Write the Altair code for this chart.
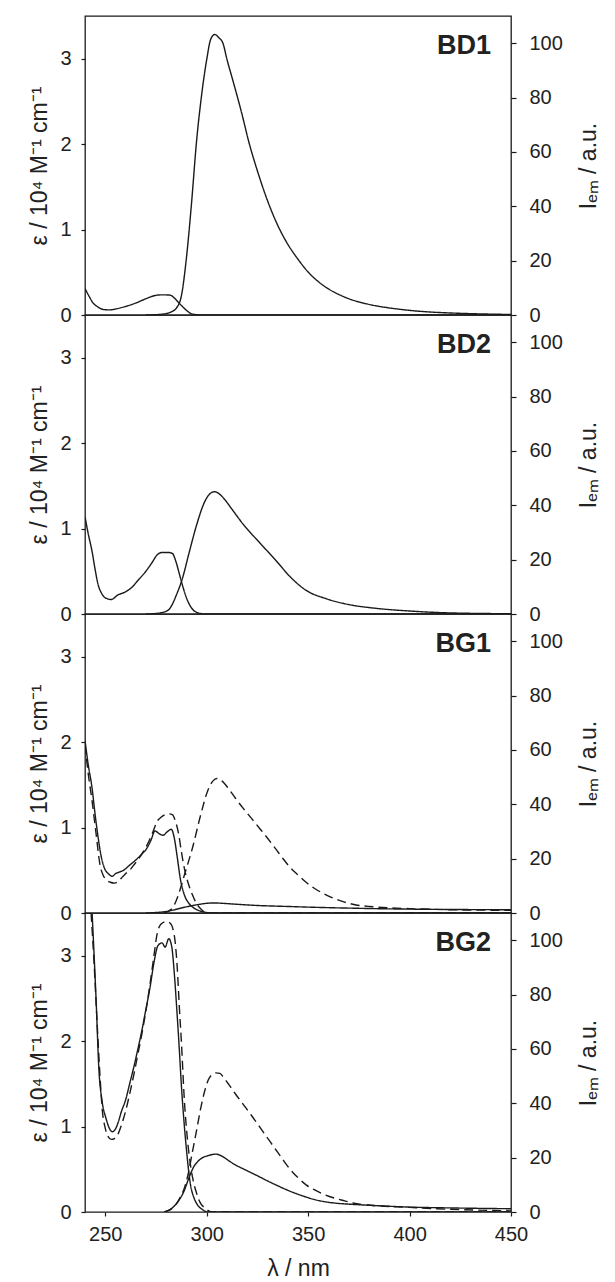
import altair as alt
import pandas as pd

# ---------------- data ----------------
# BD1
BD1_abs_lam = [240, 242, 244, 246, 249, 252, 256, 260, 265, 270, 274, 277, 280, 282, 284, 286, 288, 290, 292, 294, 297, 320, 450]
BD1_abs_val = [0.31, 0.22, 0.14, 0.10, 0.065, 0.06, 0.075, 0.10, 0.14, 0.19, 0.225, 0.235, 0.235, 0.232, 0.20, 0.15, 0.10, 0.055, 0.02, 0.006, 0.0, 0.0, 0.0]
BD1_em_lam = [270, 278, 282, 285, 287.5, 290, 292.5, 295, 297.5, 300, 302, 304, 306, 308, 310, 313, 317, 321, 325, 330, 335, 340, 345, 350, 355, 360, 365, 370, 380, 390, 400, 410, 420, 435, 450]
BD1_em_val = [0, 0.3, 1, 2.5, 7, 21, 41, 64, 81, 94, 101.5, 103.2, 102, 100, 94, 86, 75, 63, 53, 42, 33, 26, 20.5, 15.8, 12.3, 9.6, 7.6, 6.0, 3.9, 2.6, 1.7, 1.1, 0.75, 0.4, 0.2]

# BD2
BD2_abs_lam = [240, 241.5, 243.5, 245, 246.5, 248, 250, 253, 256, 260, 263, 266, 270, 273, 275.5, 278, 281, 283, 285, 286.5, 288, 290, 292, 295, 299, 450]
BD2_abs_val = [1.14, 0.95, 0.73, 0.52, 0.34, 0.25, 0.19, 0.17, 0.22, 0.26, 0.31, 0.39, 0.5, 0.6, 0.69, 0.72, 0.72, 0.71, 0.6, 0.47, 0.34, 0.19, 0.09, 0.02, 0.0, 0.0]
BD2_em_lam = [270, 277, 281, 283, 285, 288, 291, 295, 299, 302, 304, 306.5, 309, 312, 318, 326, 334, 341, 349, 359, 372, 382, 400, 420, 450]
BD2_em_val = [0, 0.4, 1.4, 3.5, 6.9, 13, 21.6, 32.7, 41.3, 44.5, 45, 44, 42, 39, 33, 26.3, 19.8, 13.8, 8.7, 5.6, 3.2, 2.2, 1.1, 0.4, 0.1]

# BG1
BG1_abs_lam = [240, 241.5, 243.5, 245, 246.5, 248, 249.5, 251.5, 253.5, 255, 257, 259, 262, 265, 268, 270, 272.5, 274.5, 276.5, 278.5, 280.5, 282.5, 284, 285.5, 287, 289, 291, 293, 296, 299, 302, 450]
BG1_abs_val = [2.02, 1.75, 1.46, 1.15, 0.88, 0.66, 0.53, 0.46, 0.43, 0.46, 0.48, 0.5, 0.56, 0.62, 0.69, 0.74, 0.85, 0.96, 0.93, 0.91, 0.95, 0.98, 0.88, 0.65, 0.4, 0.21, 0.12, 0.07, 0.03, 0.01, 0.0, 0.0]
BG1_absd_lam = [240, 241.5, 243.5, 245.5, 247.5, 249, 250.5, 252.5, 254.5, 256.5, 258, 260, 262, 264, 266, 268, 271.5, 273.5, 275.5, 277.5, 279.5, 281.5, 283.2, 284.5, 286.2, 287.5, 289, 291, 293, 295, 297, 300.5, 450]
BG1_absd_val = [1.97, 1.65, 1.31, 0.92, 0.55, 0.44, 0.39, 0.36, 0.35, 0.37, 0.41, 0.46, 0.5, 0.56, 0.62, 0.69, 0.84, 0.95, 1.07, 1.12, 1.15, 1.16, 1.15, 1.08, 0.92, 0.72, 0.52, 0.34, 0.21, 0.11, 0.05, 0.0, 0.0]
BG1_em_lam = [270, 281, 289, 295, 300.5, 304, 307, 315, 324, 340, 353, 370, 392, 420, 450]
BG1_em_val = [0, 0.7, 2.1, 3.0, 3.6, 3.7, 3.6, 3.2, 2.8, 2.4, 2.1, 1.8, 1.5, 1.3, 1.2]
BG1_emd_lam = [279, 283, 286, 289, 293, 297, 300.5, 303, 305, 307.5, 311, 314, 318, 322, 326, 330, 334, 337.5, 341, 345, 349, 353, 358, 363, 368, 372, 382, 400, 420, 450]
BG1_emd_val = [0, 1.7, 6.6, 14, 24, 36, 45, 48.5, 49.5, 48.6, 45.5, 42.4, 38.5, 34.9, 31.2, 27.5, 23.6, 20.1, 16.9, 14, 11.3, 9.1, 7, 5.3, 4, 3.2, 2.3, 1.6, 1.2, 1.0]

# BG2
BG2_abs_lam = [243.5, 244.5, 245.5, 246.8, 248.4, 250.3, 252, 253.5, 255.2, 256.5, 258, 260, 262, 264, 266, 268, 270, 272, 274, 276, 278, 279.5, 281.3, 282.8, 284, 285.2, 286.5, 287.5, 289, 290.1, 291, 292, 293.5, 295, 297.8, 300.7, 450]
BG2_abs_val = [3.5, 3.0, 2.47, 1.69, 1.3, 1.1, 0.98, 0.94, 0.98, 1.06, 1.18, 1.31, 1.5, 1.69, 1.9, 2.12, 2.37, 2.62, 2.92, 3.12, 3.15, 3.1, 3.2, 3.1, 2.8, 2.39, 1.9, 1.49, 1.0, 0.71, 0.5, 0.32, 0.18, 0.1, 0.03, 0.0, 0.0]
BG2_absd_lam = [243, 244.5, 246, 247.5, 248.5, 250, 251.5, 253, 254.5, 256, 258, 260, 262, 264, 266, 268, 270, 272, 274, 275.5, 277.5, 280, 282, 283.5, 284.5, 285.5, 286.5, 287.5, 289, 290.5, 292, 293.5, 295, 297, 299, 302.5, 450]
BG2_absd_val = [3.5, 2.9, 2.2, 1.55, 1.2, 0.98, 0.88, 0.85, 0.86, 0.9, 1.02, 1.18, 1.38, 1.6, 1.84, 2.08, 2.35, 2.66, 3.0, 3.25, 3.37, 3.4, 3.38, 3.3, 3.15, 2.85, 2.4, 2.0, 1.3, 0.85, 0.55, 0.35, 0.22, 0.1, 0.05, 0.0, 0.0]
BG2_em_lam = [279, 283, 285, 287, 289, 290.6, 292, 293.5, 295.5, 298, 301, 304.5, 306.5, 308.5, 311, 314, 319, 324, 329, 334, 339, 344, 349, 353, 358, 363, 372, 382, 400, 420, 450]
BG2_em_val = [0, 1.5, 3, 5.1, 8, 11.3, 14, 16.5, 18.5, 20, 20.8, 21.3, 20.9, 20.1, 18.8, 17.4, 15.5, 13.7, 11.8, 10, 8.3, 6.8, 5.5, 4.6, 3.8, 3.3, 2.8, 2.4, 1.8, 1.5, 1.2]
BG2_emd_lam = [279, 284, 287, 289, 291, 293, 295, 297, 299, 300.7, 302.5, 304.5, 306.5, 308.5, 311, 314, 318, 322, 326, 330, 334, 337.5, 341, 345, 349, 353, 358, 363, 368, 372, 382, 400, 420, 450]
BG2_emd_val = [0, 2, 5.5, 8.8, 14.5, 22.3, 30, 38, 44.5, 48.5, 50.5, 51.2, 51, 49.3, 46.8, 43.6, 39.6, 35.6, 31.4, 27.2, 23, 19.3, 15.8, 12.6, 10, 8.2, 6.4, 5.1, 4.1, 3.3, 2.4, 1.7, 1.0, 0.4]

panels = ["BD1", "BD2", "BG1", "BG2"]
eps_ticks = [0, 1, 2, 3]
iem_ticks = [0, 20, 40, 60, 80, 100]
x_ticks = [250, 300, 350, 400, 450]

series = [
    ("BD1", "abs", "solid", BD1_abs_lam, BD1_abs_val),
    ("BD1", "em", "solid", BD1_em_lam, BD1_em_val),
    ("BD2", "abs", "solid", BD2_abs_lam, BD2_abs_val),
    ("BD2", "em", "solid", BD2_em_lam, BD2_em_val),
    ("BG1", "abs", "solid", BG1_abs_lam, BG1_abs_val),
    ("BG1", "abs", "dashed", BG1_absd_lam, BG1_absd_val),
    ("BG1", "em", "solid", BG1_em_lam, BG1_em_val),
    ("BG1", "em", "dashed", BG1_emd_lam, BG1_emd_val),
    ("BG2", "abs", "solid", BG2_abs_lam, BG2_abs_val),
    ("BG2", "abs", "dashed", BG2_absd_lam, BG2_absd_val),
    ("BG2", "em", "solid", BG2_em_lam, BG2_em_val),
    ("BG2", "em", "dashed", BG2_emd_lam, BG2_emd_val),
]
rows = []
for p, kind, style, lams, vals in series:
    for l, v in zip(lams, vals):
        rows.append({"panel": p, "kind": kind, "style": style,
                     "series": f"{p}-{kind}-{style}", "lam": l, "val": v})
df = pd.DataFrame(rows)

INK = "#1a1a1a"
W, H = 426, 299
dash = alt.StrokeDash("style:N",
                      scale=alt.Scale(domain=["solid", "dashed"], range=[[1, 0], [9, 5]]),
                      legend=None)


def make_panel(name, last):
    d = df[df.panel == name]
    if last:
        xaxis = alt.Axis(values=x_ticks, title="λ / nm", tickSize=4, labelPadding=8,
                         labelFlush=False, titlePadding=13, domain=False)
    else:
        xaxis = None
    x = alt.X("lam:Q", scale=alt.Scale(domain=[240, 450], nice=False, zero=False), axis=xaxis)
    absl = alt.Chart(d[d.kind == "abs"]).mark_line(
        color=INK, strokeWidth=1.4, interpolate="monotone", clip=True
    ).encode(
        x=x,
        y=alt.Y("val:Q", scale=alt.Scale(domain=[0, 3.5], nice=False, zero=False),
                axis=alt.Axis(orient="left", values=eps_ticks, title="ε / 10⁴ M⁻¹ cm⁻¹",
                              tickSize=4, labelPadding=10, titlePadding=8, domain=False)),
        strokeDash=dash,
        detail="series:N",
    )
    eml = alt.Chart(d[d.kind == "em"]).mark_line(
        color=INK, strokeWidth=1.4, interpolate="monotone", clip=True
    ).encode(
        x=x,
        y=alt.Y("val:Q", scale=alt.Scale(domain=[0, 110], nice=False, zero=False),
                axis=alt.Axis(orient="right", values=iem_ticks, title="Iₑₘ / a.u.",
                              titleAngle=270, titleBaseline="top", titleFontSize=23,
                              tickSize=5, labelPadding=13, titlePadding=15, domain=False)),
        strokeDash=dash,
        detail="series:N",
    )
    lab = alt.Chart(pd.DataFrame({"t": [name]})).mark_text(
        align="right", baseline="alphabetic", fontSize=27, fontWeight="bold", color="#222"
    ).encode(x=alt.value(W - 20), y=alt.value(38), text="t:N")
    return alt.layer(absl, eml, lab).resolve_scale(y="independent").properties(width=W, height=H)


chart = alt.vconcat(*[make_panel(p, i == 3) for i, p in enumerate(panels)],
                    spacing=0, bounds="flush").properties(
    padding={"left": 20, "top": 7, "right": 0, "bottom": 5}
).configure(font="Liberation Sans").configure_view(
    stroke=INK, strokeWidth=1.3
).configure_axis(
    labelFontSize=20, titleFontSize=23, titleFontWeight="normal",
    labelColor="#222", titleColor="#222", tickColor=INK, tickWidth=1.2, grid=False,
    labelFont="Liberation Sans", titleFont="Liberation Sans"
)

chart.save("out.html", embed_options={"renderer": "svg", "actions": False})
